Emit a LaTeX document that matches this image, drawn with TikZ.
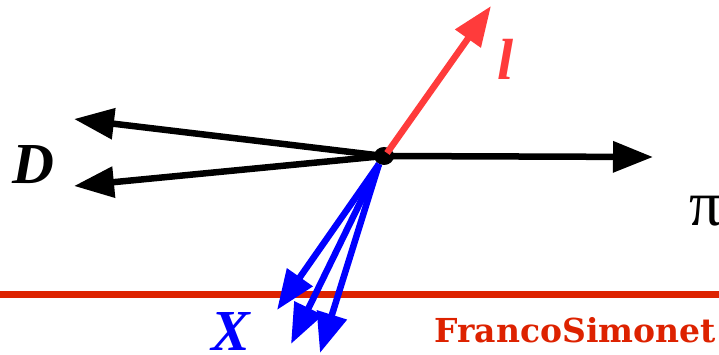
\documentclass[tikz,border=0pt]{standalone}
\usepackage{fontspec}
\setmainfont{Liberation Serif}
\newfontfamily\credfont{DejaVu Serif}
\usetikzlibrary{arrows.meta}
\definecolor{leptred}{HTML}{FF3B3B}
\definecolor{markred}{HTML}{DD2200}
\definecolor{hadblue}{HTML}{0000FF}
\begin{document}
\begin{tikzpicture}[x=1pt, y=-1pt,
  vec/.style={line width=6.5pt, -{Triangle[length=40pt, width=30pt]}},
  big/.style={font=\fontsize{58}{58}\selectfont\bfseries\itshape, inner sep=0pt},
  credtext/.style={font=\credfont\fontsize{33}{33}\selectfont\bfseries, text=markred, inner sep=0pt}]
\useasboundingbox (0,0) rectangle (719,355);
% decay vertex and end points
\coordinate (vtx) at (384,156);
\coordinate (vtxl) at (387,153);
\coordinate (vtxx) at (379,164);
\coordinate (pitip) at (653,157);
\coordinate (dup) at (74,119);
\coordinate (ddn) at (74,186);
\coordinate (ltip) at (491,6);
\coordinate (xa) at (277,310);
\coordinate (xb) at (291,344);
\coordinate (xc) at (320,353);
% reference line
\draw[markred, line width=7pt] (0,294) -- (719,294);
% tracks
\draw[vec, black] (vtx) -- (pitip);
\draw[vec, black] (vtx) -- (dup);
\draw[vec, black] (vtx) -- (ddn);
\fill[black] (vtx) ellipse [x radius=10pt, y radius=9pt];
\draw[vec, leptred] (vtxl) -- (ltip);
\foreach \t in {xa,xb,xc}
  \draw[vec, hadblue] (vtxx) -- (\t);
% labels
\node[big] (dlab) at (33,165) {D};
\node[big, text=leptred] (llab) at (506,59) {l};
\node[big, text=hadblue] (xlab) at (231,332) {X};
\node[font=\fontsize{64}{64}\selectfont, inner sep=0pt] (pilab) at (706,211) {π};
\node[credtext, anchor=east] (credit) at (716,330) {FrancoSimonet};
\end{tikzpicture}
\end{document}
